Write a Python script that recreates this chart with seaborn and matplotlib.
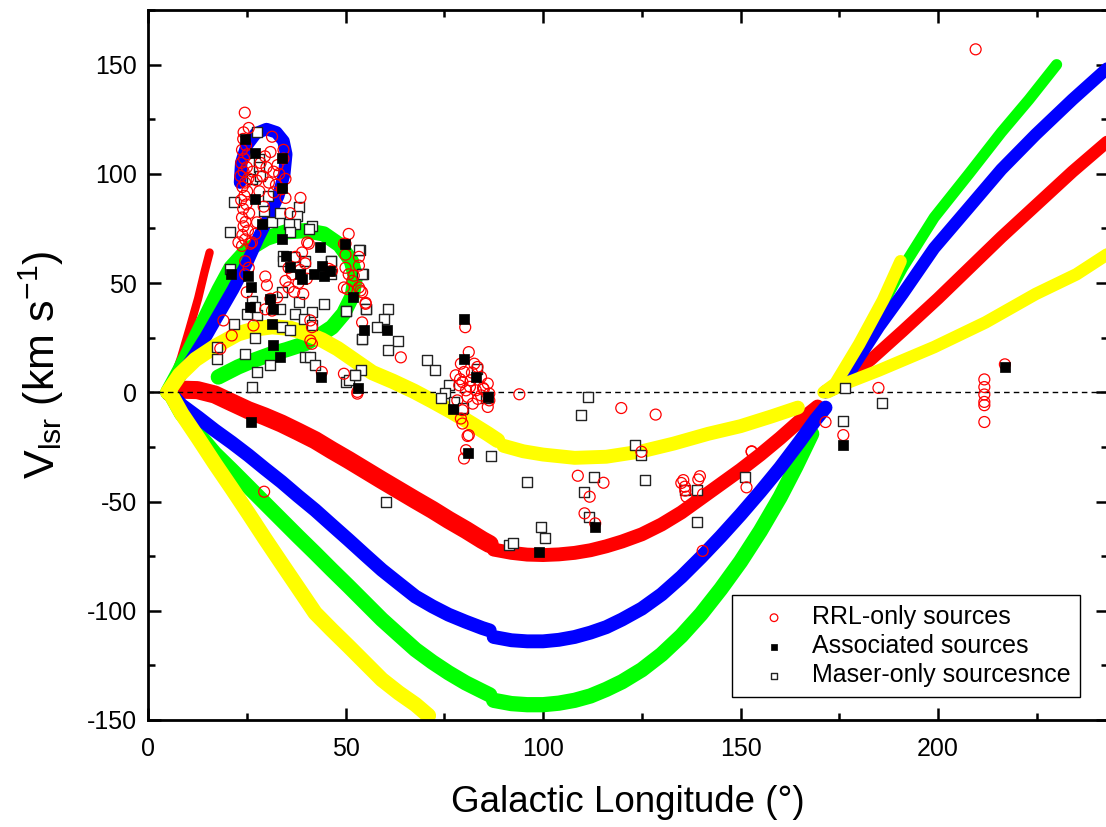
import matplotlib
matplotlib.use("Agg")
import matplotlib.pyplot as plt
import seaborn as sns
from matplotlib.ticker import MultipleLocator

sns.set_style("ticks")
plt.rcParams['font.family'] = ['Liberation Sans', 'DejaVu Sans']
plt.rcParams['mathtext.fontset'] = 'custom'
plt.rcParams['mathtext.rm'] = 'Liberation Sans'
plt.rcParams['mathtext.it'] = 'Liberation Sans:italic'
plt.rcParams['axes.unicode_minus'] = False
for key in ['text.color', 'axes.labelcolor', 'xtick.color', 'ytick.color', 'axes.edgecolor']:
    plt.rcParams[key] = 'black'

# ---------------- spiral-arm model tracks (l, v) ----------------
red_a_l = [5.5, 8.4, 10.5, 12.7, 14.3, 15.6]
red_a_v = [1, 16, 29, 43, 55, 64]
red_b_l = [5.5, 8.5, 12.5, 16.9, 21, 25.4, 29.5, 33.8, 38, 42.3, 46.5, 50.8, 55, 59.2, 63.5, 67.7, 72, 76.1,
           80.5, 84.6, 86.5]
red_b_v = [0, 1.2, 1.0, -1.0, -4.5, -8.2, -11, -14.3, -18, -21.9, -26.5, -31, -35.6, -40.2, -44.8, -49.3, -53.8,
           -58.4, -63, -67.6, -69.5]
red_c_l = [87.5, 92, 96, 100, 104, 108, 112, 116, 120, 125, 130, 135, 140, 145, 150, 155, 160, 165, 169.5]
red_c_v = [-72, -73.5, -74.3, -74.5, -74.2, -73.5, -72.3, -70.5, -68.3, -65, -60.5, -55, -48.5, -42, -35.5,
           -28.5, -21, -13, -6.5]
red_d_l = [171.5, 176, 183, 191, 200, 208, 216, 225, 234, 243]
red_d_v = [0.5, 5, 15, 28, 43, 57, 71, 86, 101, 115]

blue_a_l = [5, 8, 11, 14.5, 18, 21.5, 25, 28, 30.8, 33, 34.5, 35, 34.3, 32.5, 30, 27.3, 25, 23.6, 23.3]
blue_a_v = [0, 7, 15, 25, 36, 47, 59, 71, 81, 90, 100, 109, 115, 119, 120.5, 118.5, 113, 105, 96]
blue_b_l = [5.5, 8.5, 12.7, 16.9, 21.2, 25.4, 29.6, 33.8, 38, 42.3, 46.5, 50.8, 55, 59.2, 63.5, 67.7, 72, 76.1,
            80.4, 84.6, 86.5]
blue_b_v = [0, -5.9, -11.5, -17.4, -23, -28.8, -35, -41, -47.5, -53.9, -60.7, -67.6, -74.5, -81.3, -87.5,
            -93.5, -98, -101.8, -105, -107.9, -109]
blue_c_l = [87.5, 92, 96, 100, 104, 108, 112, 116, 120, 125, 130, 135, 140, 145, 150, 155, 160, 165, 169, 171.5]
blue_c_v = [-112, -113.5, -114, -114, -113.3, -112, -110, -107.5, -104, -99, -92.5, -84.5, -75.5, -66, -56,
            -45.5, -34.5, -22.5, -12.5, -7]
blue_d_l = [171.5, 175.5, 180, 185, 191, 199, 207.8, 216, 224.7, 234, 243]
blue_d_v = [0, 3, 16, 30, 45, 66, 84.6, 102, 118, 134, 148.6]

green_a_l = [5, 8, 11, 14.5, 18, 21, 25, 30, 35, 40, 44.5, 48.5, 51.5, 52.5, 51.7, 49.5, 46.6, 43, 39.8, 35,
             31.4, 27, 22.8, 17.8]
green_a_v = [0, 10, 21, 34, 47, 57, 65, 70.5, 73.5, 74, 72.5, 67.5, 60, 53, 44, 36, 29.8, 25.5, 22.3, 19.5,
             17.7, 14.8, 11.6, 7]
green_b_l = [5.5, 8.5, 12.7, 16.9, 21.2, 25.4, 29.6, 33.8, 38, 42.3, 46.5, 50.8, 55, 59.2, 63.5, 67.7, 72, 76.1,
             80.4, 84.6, 86.5]
green_b_v = [0, -9.7, -19, -28, -35.6, -43.2, -50.8, -58.4, -66, -73.6, -81.2, -88.8, -96.4, -104, -111,
             -117.8, -123.5, -128.4, -133, -136.8, -138.5]
green_c_l = [87.5, 92, 96, 100, 104, 108, 112, 116, 120, 125, 130, 135, 140, 145, 150, 155, 160, 164, 168]
green_c_v = [-141, -142.5, -143, -143, -142.3, -141, -139, -136, -132.5, -127, -120, -111.5, -101.5, -90,
             -77.5, -63.5, -48, -34, -19]
green_d_l = [171.5, 175.5, 180, 185, 191, 199, 207.8, 216, 223, 230]
green_d_v = [0, 4, 19, 37, 57, 80, 100, 119, 134, 150]

yellow_a_l = [5, 8, 12, 17, 22.8, 27, 31.4, 36, 40, 44, 48, 52, 56.8, 62, 67.3, 72, 77, 82, 86, 88.5]
yellow_a_v = [0, 8, 15, 21, 26.8, 29, 30, 29.3, 27, 24, 20, 15, 9, 5, 0.5, -4, -9, -14.5, -19, -22]
yellow_b_l = [90, 95, 100, 108, 116, 125, 133, 141.8, 150, 157.9, 164.5]
yellow_b_v = [-24.5, -27, -28.5, -30, -29.5, -27, -23.5, -19, -15.5, -11, -7]
yellow_c_l = [5.5, 8.5, 12.7, 16.9, 21.2, 25.4, 29.6, 33.8, 38, 42.3, 46.5, 50.8, 55, 59.2, 63.5, 67.7, 71]
yellow_c_v = [0, -9.7, -21, -32.6, -44, -55.4, -67, -78.3, -89.5, -101, -108.7, -116.3, -123.9, -131.5,
              -137.6, -142.9, -148]
yellow_d_l = [171, 174, 180, 186, 190.5]
yellow_d_v = [0, 4, 22, 42, 60]
yellow_e_l = [172, 176.5, 185, 199, 212, 224.7, 235, 243]
yellow_e_v = [0, 4, 10, 20.7, 32, 45, 54, 63.4]

# ---------------- sources ----------------
rrl_l = [24.5, 25.5, 24.2, 24.1, 24.8, 23.8, 25.2, 24.3, 23.6, 25.0, 24.2, 23.4, 25.4, 24.6, 23.9, 25.1, 24.4, 23.6,
         24.9, 24.1, 25.6, 23.8, 24.7, 24.2, 25.3, 23.9, 24.6, 22.9, 26.3, 23.8, 25.9,
         31.4, 34.3, 31.0, 34.3, 28.5, 30.0, 31.8, 33.2, 29.0, 27.5, 30.6, 32.4, 34.8, 33.9, 31.8, 34.8, 38.6, 29.3,
         36.0, 27.6, 27.2, 40.3, 28.2, 26.5, 32.8, 29.6,
         50.8, 49.6, 50.0, 50.0, 53.4, 53.4, 52.1, 53.8, 50.4, 55.1, 54.2, 51.7, 50.8, 50.0, 49.6, 53.4, 54.2, 55.1,
         46.6, 45.8,
         39.0, 40.7, 37.3, 35.6, 39.8, 34.8, 35.6, 38.1, 36.5, 38.5, 40.2, 37.0, 39.3,
         24.6, 25.5, 24.6, 29.7, 30.1, 25.0, 32.7, 31.0, 29.7, 31.4, 41.1, 41.5, 41.1, 41.5, 19.1, 21.2, 26.7, 18.3,
         44.0, 49.6, 53.0, 64.0, 53.0, 29.4,
         80.3, 81.2, 79.2, 82.6, 80.0, 83.4, 77.9, 79.6, 81.7, 80.5, 83.0, 86.0, 86.4, 86.4, 86.0, 94.0, 82.2, 79.6,
         79.2, 79.6, 81.2, 80.5, 80.0, 78.3, 80.9, 84.3, 78.8, 84.3, 81.5, 83.5, 85.0, 79.0, 82.0, 84.8, 80.9,
         119.8, 128.5, 124.9, 108.8, 115.3, 111.8, 110.5, 113.2, 135.5, 135.9, 136.3, 139.3, 139.7, 140.5, 152.8,
         151.5, 140.4, 135.0, 136.0,
         184.9, 211.7, 211.7, 211.7, 211.7, 211.7, 211.7, 171.5, 176.0, 216.9, 209.5, 152.8]
rrl_v = [128, 121, 119, 116, 113, 111, 109, 107, 105, 103, 101, 99, 98, 96, 94, 92, 90, 88,
         86, 84, 82, 80, 78, 76, 74, 72, 70, 68.6, 68.6, 67, 68,
         117, 111, 110, 107, 105, 103, 101, 100, 99, 97, 96, 95, 97.7, 93, 91.5, 89, 89, 85,
         82, 77.8, 72.5, 68.6, 92, 101, 104, 108,
         72.5, 68, 68, 63, 62, 58, 53.4, 46.6, 47.3, 40.5, 32, 51, 54, 57, 48, 48, 45.8, 41,
         55.7, 56.5,
         64, 68, 62, 57, 59, 51, 48, 50, 54, 56, 52, 46, 45,
         60, 57, 54, 53, 49, 45.8, 43.5, 42.8, 38, 37.4, 32.9, 29.8, 23.7, 22.2, 32.9, 26, 30.6, 20,
         9.3, 8.5, 0.2, 16, -0.6, -45.5,
         29.8, 18.4, 13.1, 13.1, 9.3, 11.6, 7.8, 4.7, 5.5, 0.9, 0.9, 4, -0.6, -3.7, -6.7, -0.9, -5.2, -8.2,
         -12, -14.3, -19.6, -26.5, -30.3, -3.7, -2.1, -1.4, 3.2, 7, 2.5, -3, 1.5, 6, 9, 2, -20,
         -7.2, -10.2, -27.2, -38.2, -41.4, -47.8, -55.4, -60, -40.2, -43.2, -47.8, -39.9, -38.4, -46.6, -27,
         -43.5, -72.6, -41.5, -45,
         2, 5.9, 2.4, -1, -4.4, -5.9, -13.6, -13.6, -19.6, 12.8, 157, -27.2]

assoc_l = [27.0, 33.8, 33.8, 28.8, 27.0, 33.8, 43.6, 21.1, 25.4, 26.2, 34.9, 38.5, 41.9, 44.0, 44.6, 46.1, 49.9,
           30.9, 31.7, 25.8, 31.3, 31.7, 33.4, 43.8, 53.1, 51.8, 54.6, 60.5, 36.0, 38.9, 24.6, 26.0,
           80.0, 80.0, 83.0, 77.1, 86.0, 80.9, 98.9, 113.2, 176.0, 216.9]
assoc_v = [109.7, 107.4, 93.7, 77, 88.4, 70, 66.4, 54.2, 53.4, 48, 62.2, 54.2, 54.2, 58, 53.4, 55.7, 67.9,
           42.8, 38.2, 39, 31.4, 21.5, 16.1, 7, 2, 43.5, 28.6, 28.6, 57.2, 51.9, 116, -13.8,
           33.6, 15.4, 7, -7.5, -2.1, -28, -73.2, -61.5, -24.2, 11.6]

maser_l = [85.7, 111.3, 109.7, 86.8, 123.2, 124.9, 96.0, 112.8, 125.7, 110.4, 111.6, 135.9, 138.9, 151.2, 138.9,
           99.5, 100.6, 91.3, 92.3, 176.5, 175.9, 185.9,
           53.6, 54.4, 50.0, 55.1, 60.7, 59.7, 58.0, 54.1, 63.3, 60.7, 70.7, 72.7, 53.8, 52.5, 50.0, 76.2, 75.2,
           74.1, 83.4, 85.5, 79.4, 46.2, 46.2, 77.5, 79.8, 60.3,
           20.8, 34.3, 34.3, 39.8, 36.9, 46.2, 53.4, 54.2, 33.9, 38.1, 44.5, 33.5, 26.3, 27.6, 25.0, 37.3, 41.5,
           39.4, 41.5, 33.9, 36.0, 21.7, 27.2, 17.4, 17.4, 24.6, 50.0, 55.3, 54.2, 31.0, 27.6, 26.3, 39.8, 41.1,
           42.4, 50.8, 52.5,
           27.6, 28.0, 28.0, 26.3, 28.4, 30.5, 21.7, 20.8, 31.4, 29.3, 33.5, 38.1, 37.7, 37.3, 35.6, 41.5, 40.7,
           36.0, 27.0]
maser_v = [-2.1, -2.1, -10.5, -29.2, -24.2, -28.8, -41, -38.7, -40.2, -45.5, -57, -44.7, -44.7, -38.7, -59.2,
           -61.5, -66.5, -69.9, -69.1, 2.1, -13.1, -4.7,
           65.2, 54.2, 37.4, 38.2, 38.2, 33.6, 29.8, 24.5, 23.7, 19.2, 14.6, 10, 10, 7.8, 4.7, 3.5, -0.1,
           -2.4, 10.8, -2.4, -7.8, 60.3, 54.2, -4.4, -7.4, -50.4,
           56.5, 62.6, 60.3, 60.3, 61.8, 60.3, 65.2, 54.2, 45.8, 41.2, 40.5, 38.2, 42, 35.2, 35.9, 35.9, 36.7,
           33.6, 30.6, 29.8, 28.6, 31.4, 24.8, 20.7, 15.4, 17.6, 37, 38.2, 24.5, 12.3, 9.3, 2.4, 16.1, 16.1,
           12.3, 5.5, 7.8,
           119, 106.7, 103, 97.6, 99, 90, 86.9, 73.2, 77.8, 83, 82.3, 84.6, 80.8, 77, 77, 76.3, 74.7,
           73.2, 39]

# ---------------- figure ----------------
fig = plt.figure(figsize=(11.06, 8.27), dpi=100)
ax = fig.add_axes([0.1338, 0.1294, 0.8680, 0.8585])

tracks = [
    (red_a_l, red_a_v, '#FF0000', 6),
    (red_b_l, red_b_v, '#FF0000', 13),
    (red_c_l, red_c_v, '#FF0000', 10),
    (red_d_l, red_d_v, '#FF0000', 9),
    (green_a_l, green_a_v, '#00FF00', 11),
    (green_b_l, green_b_v, '#00FF00', 11),
    (green_c_l, green_c_v, '#00FF00', 11),
    (green_d_l, green_d_v, '#00FF00', 8),
    (blue_a_l, blue_a_v, '#0000FF', 9),
    (blue_b_l, blue_b_v, '#0000FF', 10),
    (blue_c_l, blue_c_v, '#0000FF', 10),
    (blue_d_l, blue_d_v, '#0000FF', 9),
    (yellow_a_l, yellow_a_v, '#FFFF00', 11),
    (yellow_b_l, yellow_b_v, '#FFFF00', 10),
    (yellow_c_l, yellow_c_v, '#FFFF00', 11),
    (yellow_d_l, yellow_d_v, '#FFFF00', 9),
    (yellow_e_l, yellow_e_v, '#FFFF00', 9),
]
for lx, lv, col, lw in tracks:
    sns.lineplot(x=lx, y=lv, sort=False, estimator=None, color=col, linewidth=lw,
                 solid_capstyle='round', solid_joinstyle='round', ax=ax, legend=False)

ax.axhline(0, color='black', linestyle=(0, (4, 3)), linewidth=1.0, zorder=3)

sns.scatterplot(x=maser_l, y=maser_v, marker='s', s=48, facecolor='white', edgecolor='#222222',
                linewidth=1.0, ax=ax, zorder=4, label='Maser-only sourcesnce')
sns.scatterplot(x=rrl_l, y=rrl_v, marker='o', s=62, facecolor='none', edgecolor='#FF0000',
                linewidth=0.9, ax=ax, zorder=5, label='RRL-only sources')
sns.scatterplot(x=assoc_l, y=assoc_v, marker='s', s=48, color='black', edgecolor='black',
                linewidth=0.5, ax=ax, zorder=6, label='Associated sources')

ax.set_xlim(0, 243)
ax.set_ylim(-150, 175)
ax.set_xticks([0, 50, 100, 150, 200])
ax.set_yticks([-150, -100, -50, 0, 50, 100, 150])
ax.xaxis.set_minor_locator(MultipleLocator(25))
ax.yaxis.set_minor_locator(MultipleLocator(25))
ax.tick_params(which='both', direction='in', top=True, right=True, width=1.8, labelsize=18)
ax.tick_params(which='major', length=9)
ax.tick_params(which='minor', length=5)
ax.tick_params(axis='x', pad=12)
ax.tick_params(axis='y', pad=8)
for sp in ax.spines.values():
    sp.set_linewidth(2)
    sp.set_color('black')

ax.set_xlabel('Galactic Longitude (°)', fontsize=26.5)
ax.xaxis.set_label_coords(0.5, -0.092)
ax.set_ylabel(r'V$_{\mathrm{lsr}}$ (km s$^{\mathrm{-1}}$)', fontsize=31)
ax.yaxis.set_label_coords(-0.085, 0.5)

handles, labels = ax.get_legend_handles_labels()
order = [labels.index('RRL-only sources'), labels.index('Associated sources'),
         labels.index('Maser-only sourcesnce')]
leg = ax.legend([handles[i] for i in order], [labels[i] for i in order],
                loc='lower right', bbox_to_anchor=(0.971, 0.032), borderaxespad=0,
                fontsize=18, markerscale=0.7, frameon=True, fancybox=False, framealpha=1,
                edgecolor='black', labelspacing=0.2, handletextpad=0.2, borderpad=0.4,
                handlelength=2.6)
leg.get_frame().set_linewidth(1.0)

fig.savefig('out.png', dpi=100)
